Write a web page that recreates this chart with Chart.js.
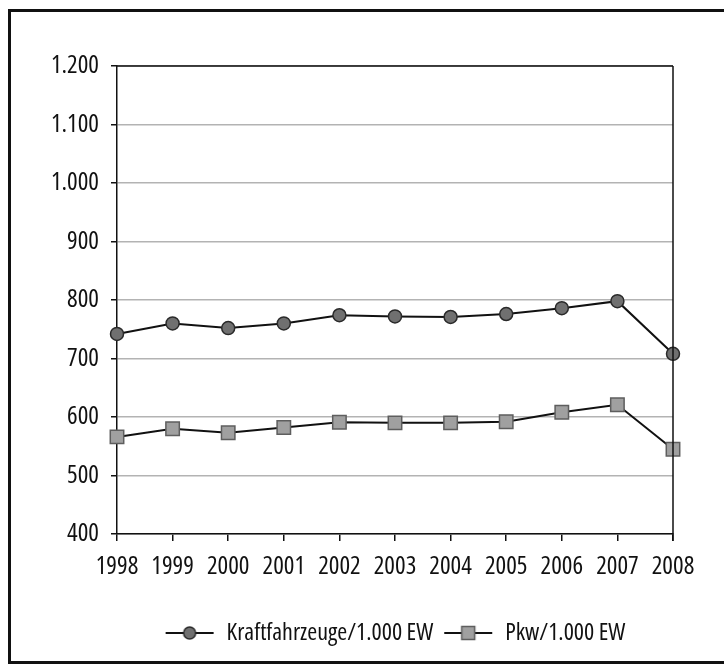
<!DOCTYPE html>
<html>
<head>
<meta charset="utf-8">
<script src="https://cdn.jsdelivr.net/npm/chart.js@4.4.1/dist/chart.umd.min.js"></script>
<style>
  html, body { margin: 0; padding: 0; background: #fff; }
  body { width: 724px; height: 664px; position: relative; overflow: hidden; }
  #frame { position: absolute; left: 8px; top: 9px; width: 740px; height: 649px;
           border-left: 3px solid #111; border-top: 3px solid #111; border-bottom: 3px solid #111; }
  #wrap { position: absolute; left: 0; top: 0; width: 724px; height: 664px; }
</style>
</head>
<body>
<div id="frame"></div>
<div id="wrap"><canvas id="c" width="724" height="664"></canvas></div>
<script>
const years = ['1998','1999','2000','2001','2002','2003','2004','2005','2006','2007','2008'];
const kfzPer1000 = [742, 760, 752, 760, 774, 772, 771, 776, 786, 798, 708];
const pkwPer1000 = [566, 580, 573, 582, 591, 590, 590, 592, 608, 621, 545];
const seriesNames = ['Kraftfahrzeuge/1.000 EW', 'Pkw/1.000 EW'];
const yMin = 400, yMax = 1200, yStep = 100;

const FAMILY = "'Open Sans', 'DejaVu Sans Condensed', sans-serif";
const STRETCH = '500 condensed';

function legendIcon(kind) {
  const cv = document.createElement('canvas');
  cv.width = 50; cv.height = 18;
  const g = cv.getContext('2d');
  g.strokeStyle = '#111'; g.lineWidth = 2;
  g.beginPath(); g.moveTo(1, 9); g.lineTo(49, 9); g.stroke();
  if (kind === 'circle') {
    g.fillStyle = '#707070'; g.strokeStyle = '#2a2a2a'; g.lineWidth = 1.5;
    g.beginPath(); g.arc(25, 9, 6, 0, Math.PI * 2); g.fill(); g.stroke();
  } else {
    g.fillStyle = '#a0a0a0'; g.strokeStyle = '#5e5e5e'; g.lineWidth = 1.5;
    g.fillRect(18.5, 2.5, 13, 13); g.strokeRect(18.5, 2.5, 13, 13);
  }
  return cv;
}

const frameLines = {
  id: 'frameLines',
  afterDatasetsDraw(chart) {
    const a = chart.chartArea, ctx = chart.ctx;
    ctx.save();
    ctx.strokeStyle = '#111'; ctx.lineWidth = 1.5;
    ctx.beginPath();
    ctx.moveTo(a.left, a.top); ctx.lineTo(a.right, a.top);
    ctx.moveTo(a.right, a.top); ctx.lineTo(a.right, a.bottom + 7);
    ctx.stroke();
    ctx.restore();
  }
};

new Chart(document.getElementById('c'), {
  type: 'line',
  data: {
    labels: years,
    datasets: [
      { label: seriesNames[0], data: kfzPer1000, borderColor: '#111', borderWidth: 2,
        pointStyle: 'circle', pointRadius: 6.5, pointBackgroundColor: '#707070',
        pointBorderColor: '#2a2a2a', pointBorderWidth: 1.5, tension: 0, clip: false },
      { label: seriesNames[1], data: pkwPer1000, borderColor: '#111', borderWidth: 2,
        pointStyle: 'rect', pointRadius: 9.5, pointBackgroundColor: '#a0a0a0',
        pointBorderColor: '#5e5e5e', pointBorderWidth: 1.5, tension: 0, clip: false }
    ]
  },
  options: {
    responsive: false,
    animation: false,
    events: [],
    layout: { padding: { left: 0, right: 51, top: 66, bottom: 9 } },
    scales: {
      x: {
        offset: false,
        afterFit(scale) { scale.height = 77; },
        grid: { display: true, drawOnChartArea: false, drawTicks: true, tickLength: 7, tickColor: '#111', lineWidth: 1.5 },
        border: { display: true, color: '#111', width: 1.5 },
        ticks: { color: '#111', font: { family: FAMILY, weight: STRETCH, size: 25 }, padding: 11, maxRotation: 0, autoSkip: false }
      },
      y: {
        min: yMin, max: yMax,
        afterFit(scale) { scale.width = 117; },
        grid: { color: '#b3b3b3', lineWidth: 1.5, tickLength: 6, tickColor: '#111' },
        border: { display: true, color: '#111', width: 1.5 },
        ticks: { stepSize: yStep, color: '#111', font: { family: FAMILY, weight: STRETCH, size: 25 }, padding: 12,
          callback: v => String(v).replace(/\B(?=(\d{3})+(?!\d))/g, '.') }
      }
    },
    plugins: {
      tooltip: { enabled: false },
      legend: {
        position: 'bottom',
        fullSize: false,
        labels: {
          color: '#111', font: { family: FAMILY, weight: STRETCH, size: 24 },
          usePointStyle: true, pointStyleWidth: 50, boxHeight: 18, padding: 10,
          generateLabels(chart) {
            return chart.data.datasets.map((ds, i) => ({
              text: ds.label, fillStyle: '#fff', strokeStyle: '#fff', lineWidth: 0,
              pointStyle: legendIcon(i === 0 ? 'circle' : 'rect'), hidden: false, datasetIndex: i,
              fontColor: '#111'
            }));
          }
        }
      }
    }
  },
  plugins: [frameLines]
});
</script>
</body>
</html>
